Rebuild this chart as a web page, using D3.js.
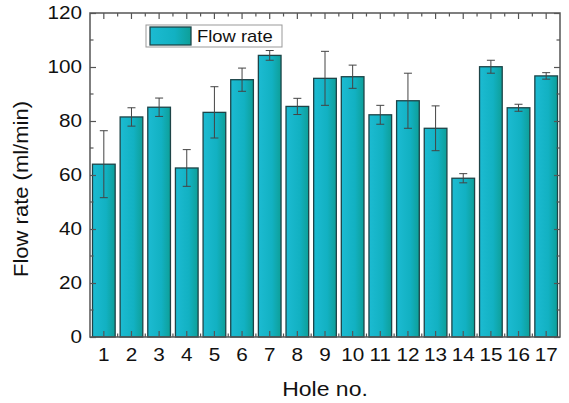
<!DOCTYPE html>
<html>
<head>
<meta charset="utf-8">
<script src="https://cdn.jsdelivr.net/npm/d3@7"></script>
<style>
  body { margin: 0; background: #fff; }
  text { font-family: "Liberation Sans", Arial, sans-serif; fill: #111; }
</style>
</head>
<body>
<svg id="chart" width="569" height="403"></svg>
<script>
// data
const holes = ["1","2","3","4","5","6","7","8","9","10","11","12","13","14","15","16","17"];
const flowRate = [64.0, 81.5, 85.1, 62.6, 83.2, 95.3, 104.3, 85.4, 95.8, 96.4, 82.3, 87.5, 77.3, 58.8, 100.1, 84.9, 96.7];
const flowErr = [12.4, 3.4, 3.4, 6.8, 9.5, 4.3, 1.8, 3.0, 10.0, 4.3, 3.5, 10.2, 8.3, 1.7, 2.4, 1.3, 1.2];
const yTicks = [0, 20, 40, 60, 80, 100, 120];
const yMinor = [10, 30, 50, 70, 90, 110];

const svg = d3.select("#chart");
const margin = {left: 90, right: 9, top: 13, bottom: 66};
const width = 569 - margin.left - margin.right;
const height = 403 - margin.top - margin.bottom;
const stretch = 1.15; // the original lettering is a bit wider than Liberation Sans

const g = svg.append("g").attr("transform", `translate(${margin.left},${margin.top})`);

const x = d3.scaleBand().domain(holes).range([0, width]).paddingInner(0.18).paddingOuter(0.09);
const y = d3.scaleLinear().domain([0, 120]).range([height, 0]);

const defs = svg.append("defs");
const grad = defs.append("linearGradient").attr("id", "barFill")
    .attr("x1", "0%").attr("x2", "100%").attr("y1", "0%").attr("y2", "0%");
grad.append("stop").attr("offset", "0%").attr("stop-color", "#1cbbd2");
grad.append("stop").attr("offset", "60%").attr("stop-color", "#12b1c2");
grad.append("stop").attr("offset", "100%").attr("stop-color", "#0e9f98");

// bars
g.selectAll("rect.bar")
    .data(flowRate)
    .join("rect")
    .attr("class", "bar")
    .attr("x", (d, i) => x(holes[i]))
    .attr("y", d => y(d))
    .attr("width", x.bandwidth())
    .attr("height", d => height - y(d))
    .style("fill", "url(#barFill)")
    .style("stroke", "#1d4448")
    .style("stroke-width", 1.3);

// error bars
const cap = 4;
const eb = g.selectAll("g.err")
    .data(flowRate)
    .join("g")
    .attr("class", "err")
    .attr("transform", (d, i) => `translate(${x(holes[i]) + x.bandwidth() / 2},0)`)
    .style("stroke", "#444")
    .style("stroke-width", 1);
eb.append("line")
    .attr("y1", (d, i) => y(d + flowErr[i]))
    .attr("y2", (d, i) => y(d - flowErr[i]));
eb.append("line")
    .attr("x1", -cap).attr("x2", cap)
    .attr("y1", (d, i) => y(d + flowErr[i]))
    .attr("y2", (d, i) => y(d + flowErr[i]));
eb.append("line")
    .attr("x1", -cap).attr("x2", cap)
    .attr("y1", (d, i) => y(d - flowErr[i]))
    .attr("y2", (d, i) => y(d - flowErr[i]));

// axes, ticks pointing inwards
const axisColor = "#555";
const styleAxis = sel => {
    sel.select(".domain").remove();
    sel.selectAll(".tick line").style("stroke", axisColor).style("stroke-width", 1.2);
};

const xMinor = holes.slice(0, -1).map((h, i) => x(h) + x.step() / 2 + x.bandwidth() / 2);

const xAxis = g.append("g").attr("transform", `translate(0,${height})`)
    .call(d3.axisBottom(x).tickSize(-6))
    .call(styleAxis);
xAxis.selectAll(".tick text")
    .style("font-size", "18px")
    .attr("dy", "0.72em").attr("y", 11)
    .attr("transform", `scale(${stretch},1)`);

g.append("g")
    .call(d3.axisTop(x).tickSize(-6).tickFormat(""))
    .call(styleAxis);

[height, 0].forEach((yy, k) => {
    g.append("g").selectAll("line")
        .data(xMinor)
        .join("line")
        .attr("x1", d => d).attr("x2", d => d)
        .attr("y1", yy).attr("y2", k === 0 ? yy - 3.5 : yy + 3.5)
        .style("stroke", axisColor).style("stroke-width", 1.2);
});

const yAxis = g.append("g")
    .call(d3.axisLeft(y).tickValues(yTicks).tickSize(-6))
    .call(styleAxis);
yAxis.selectAll(".tick text")
    .style("font-size", "18px")
    .attr("x", -8 / stretch)
    .attr("transform", `scale(${stretch},1)`);

g.append("g").attr("transform", `translate(${width},0)`)
    .call(d3.axisRight(y).tickValues(yTicks).tickSize(-6).tickFormat(""))
    .call(styleAxis);

[0, width].forEach((xx, k) => {
    g.append("g").selectAll("line")
        .data(yMinor)
        .join("line")
        .attr("x1", xx).attr("x2", k === 0 ? xx + 3.5 : xx - 3.5)
        .attr("y1", d => y(d)).attr("y2", d => y(d))
        .style("stroke", axisColor).style("stroke-width", 1.2);
});

// frame
g.append("rect")
    .attr("width", width).attr("height", height)
    .style("fill", "none").style("stroke", axisColor).style("stroke-width", 1.5);

// axis titles
svg.append("text")
    .attr("transform", `translate(${margin.left + width / 2},396) scale(${stretch},1)`)
    .attr("text-anchor", "middle")
    .style("font-size", "20px")
    .text("Hole no.");

svg.append("text")
    .attr("transform", `translate(28,${margin.top + height / 2 + 14}) rotate(-90) scale(1.1,1)`)
    .attr("text-anchor", "middle")
    .style("font-size", "20px")
    .text("Flow rate (ml/min)");

// legend
const lg = svg.append("g").attr("transform", "translate(146,25)");
lg.append("rect").attr("width", 136).attr("height", 22)
    .style("fill", "#fff").style("stroke", "#999").style("stroke-width", 1);
lg.append("rect").attr("x", 4).attr("y", 2).attr("width", 41).attr("height", 18)
    .style("fill", "url(#barFill)").style("stroke", "#1d4448").style("stroke-width", 1.3);
lg.append("text")
    .attr("transform", `translate(51,17) scale(${stretch},1)`)
    .style("font-size", "16px")
    .text("Flow rate");
</script>
</body>
</html>
